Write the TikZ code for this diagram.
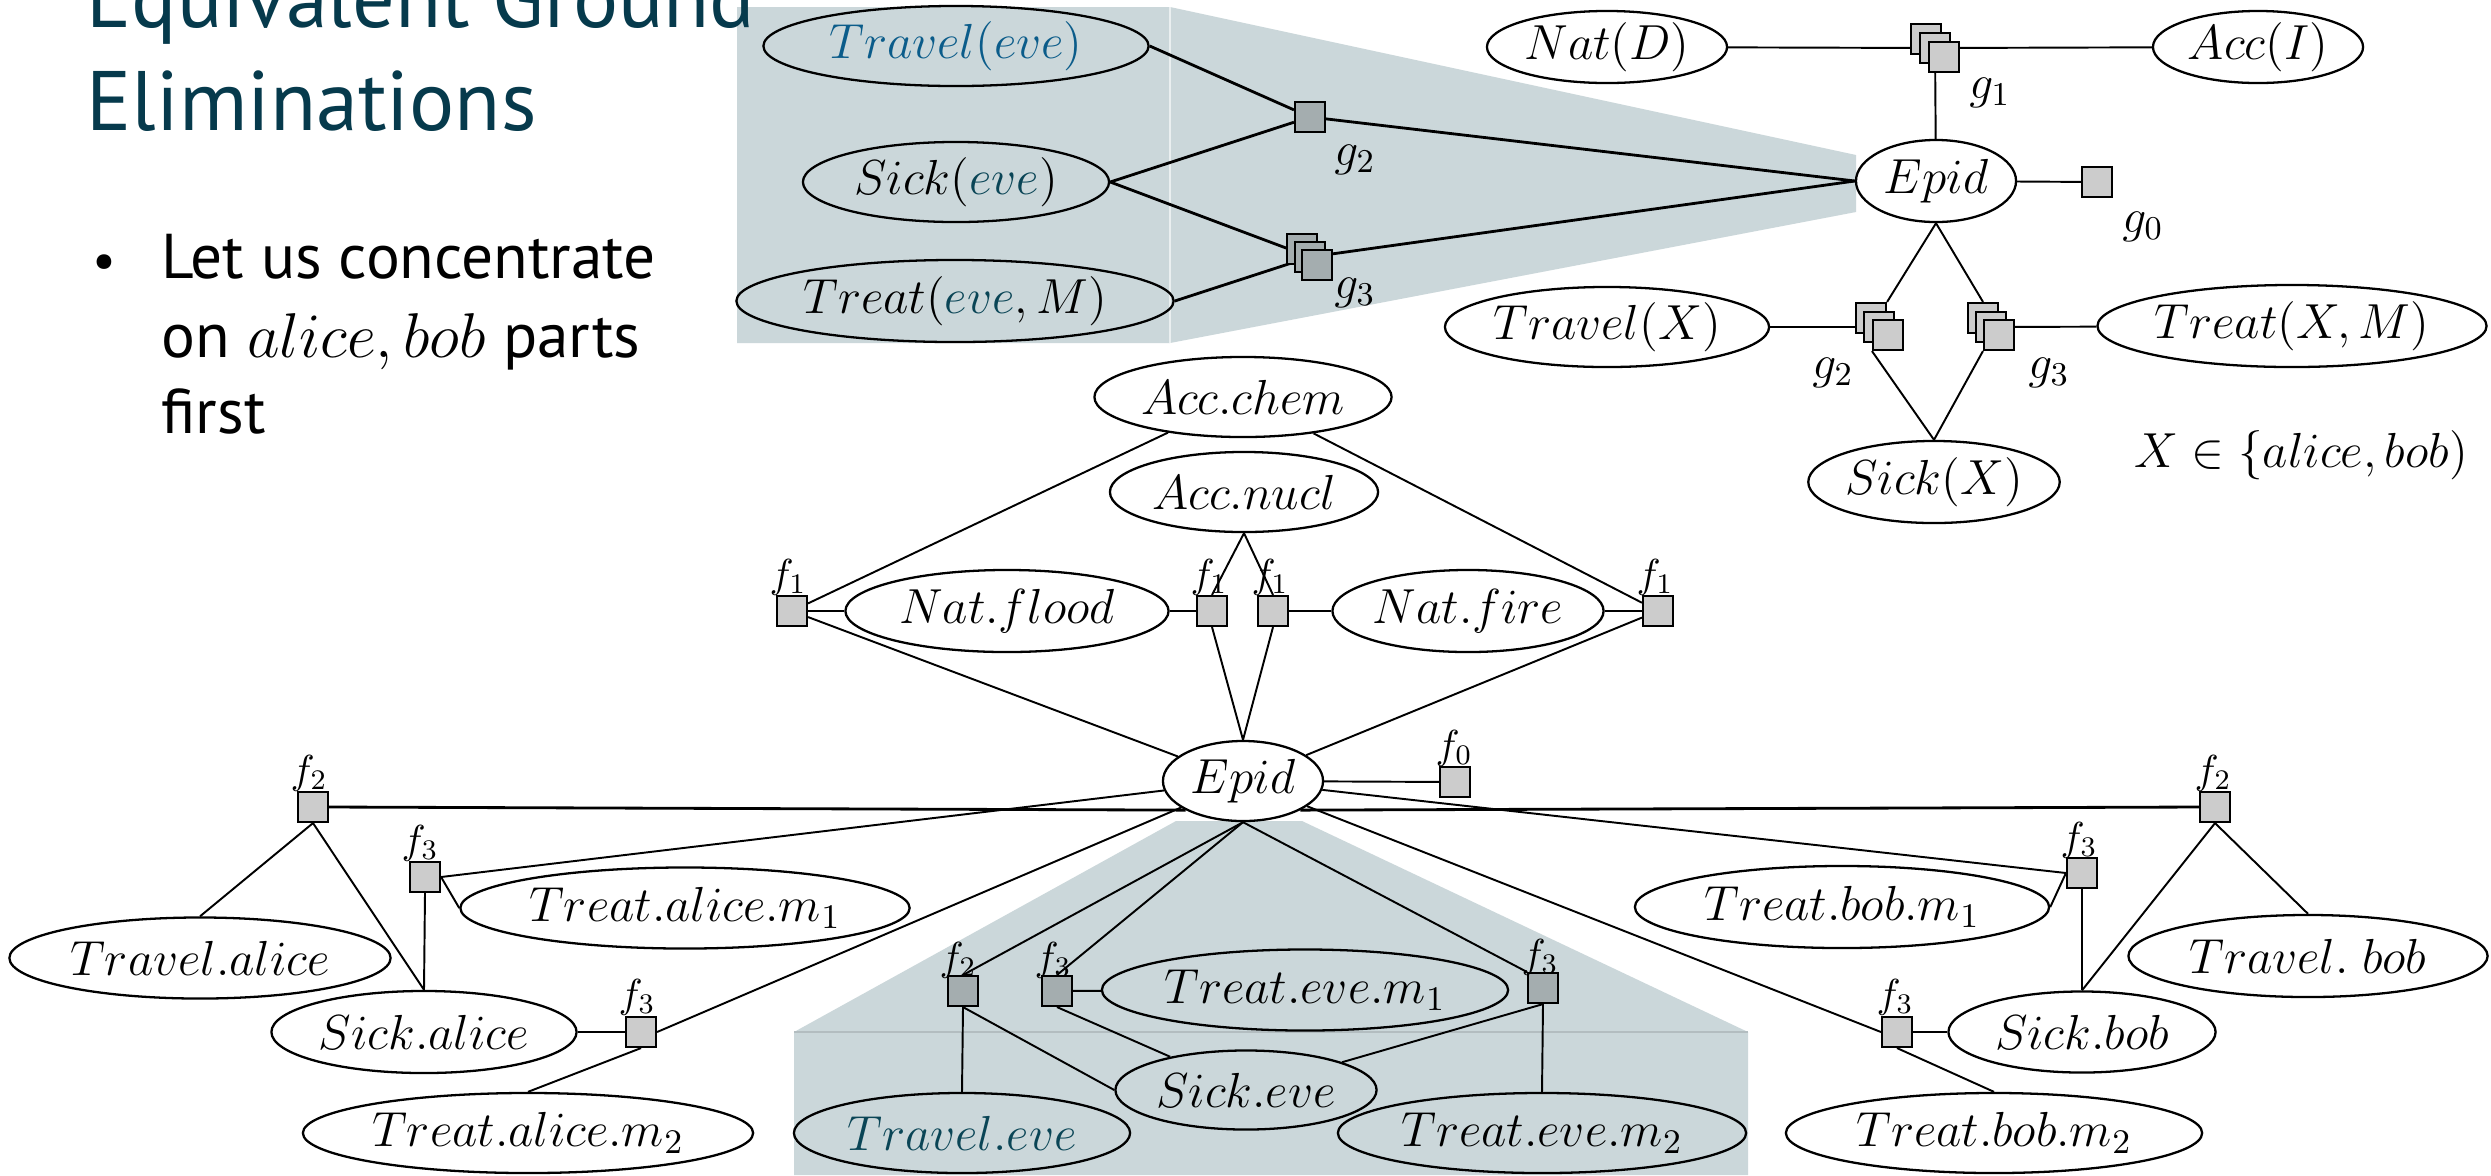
\RequirePackage{fix-cm}
\documentclass[tikz,border=0pt]{standalone}
\usepackage{fontspec}
\newfontfamily\ptsans{PT Sans}
\usetikzlibrary{shapes.geometric}
\definecolor{shadec}{RGB}{203,215,218}
\definecolor{facL}{RGB}{204,204,204}
\definecolor{facD}{RGB}{164,173,175}
\definecolor{titlec}{RGB}{6,58,76}
\definecolor{bluec}{RGB}{11,92,138}
\definecolor{tealc}{RGB}{10,69,86}
\pgfdeclarelayer{bg}\pgfdeclarelayer{edges}\pgfsetlayers{bg,edges,main}
\tikzset{
 var/.style={ellipse,draw,line width=0.65pt,fill=white,inner sep=0pt,font=\fontsize{14}{16}\selectfont},
 varS/.style={var,fill=none},
 fac/.style={rectangle,draw,line width=0.6pt,fill=facL,minimum width=0.3cm,minimum height=0.3cm,inner sep=0pt},
 facS/.style={fac,fill=facD},
 lab/.style={inner sep=0pt,font=\fontsize{11.5}{13}\selectfont},
 labg/.style={inner sep=0pt,font=\fontsize{13.5}{15}\selectfont},
 lnk/.style={line width=0.55pt},
 lnkT/.style={line width=0.8pt},
 ttl/.style={anchor=base west,inner sep=0pt,text=titlec,font=\ptsans\fontsize{24}{28}\selectfont},
 bod/.style={anchor=base west,inner sep=0pt,font=\ptsans\fontsize{18}{21}\selectfont},
}
\begin{document}
\begin{tikzpicture}[x=0.01cm,y=-0.01cm]
\useasboundingbox (0,0) rectangle (2491,1175);
\begin{pgfonlayer}{bg}
\fill[white] (0,0) rectangle (2491,1175);
\fill[shadec] (737,7) -- (1170,7) -- (1856,155) -- (1856,212) -- (1170,343) -- (737,343) -- cycle;
\draw[white!60!shadec, line width=0.6pt] (1170,7) -- (1170,343);
\fill[shadec] (1176,821) -- (1302,821) -- (1748,1032) -- (1748,1175) -- (794,1175) -- (794,1032) -- cycle;
\draw[black!12!shadec, line width=0.6pt] (794,1032) -- (1748,1032);
\end{pgfonlayer}

% title and bullet text
\node[ttl] (title1) at (86,27) {Equivalent Ground};
\node[ttl] (title2) at (86,130) {Eliminations};
\node[bod] (bullet) at (92,278) {\fontsize{15}{18}\selectfont\textbullet};
\node[bod] (line1) at (161,278) {Let us concentrate};
\node[bod] (line2) at (161,357) {on $alice,bob$ parts};
\node[bod] (line3) at (161,433) {first};

% ---------- top-left (shaded) ----------
\node[varS,minimum width=3.85cm,minimum height=0.8cm] (TrE) at (956,46) {\textcolor{bluec}{$Travel(eve)$}};
\node[varS,minimum width=3.06cm,minimum height=0.8cm] (SiE) at (956,182) {$Sick(\textcolor{tealc}{eve})$};
\node[varS,minimum width=4.37cm,minimum height=0.82cm] (TmE) at (955,301) {$Treat(\textcolor{tealc}{eve},M)$};
\node[facS] (g2tl) at (1310,117) {};
\node[facS] (g3tlb) at (1302,249) {};
\node[facS] (g3tlm) at (1310,257) {};
\node[facS] (g3tl) at (1317,265) {};
\node[labg] (lg2tl) at (1355,160) {$g_2$};
\node[labg] (lg3tl) at (1355,293) {$g_3$};

% ---------- top-right ----------
\node[var,minimum width=2.40cm,minimum height=0.72cm] (NatD) at (1607,47) {$Nat(D)$};
\node[var,minimum width=2.10cm,minimum height=0.72cm] (AccI) at (2258,47) {$Acc(I)$};
\node[fac] (g1b) at (1926,39) {};
\node[fac] (g1m) at (1935,48) {};
\node[fac] (g1) at (1944,57) {};
\node[labg] (lg1) at (1990,93) {$g_1$};
\node[var,minimum width=1.60cm,minimum height=0.82cm] (EpidT) at (1936,181) {$Epid$};
\node[fac] (g0) at (2097,182) {};
\node[labg] (lg0) at (2143,227) {$g_0$};
\node[var,minimum width=3.24cm,minimum height=0.8cm] (TravX) at (1607,327) {$Travel(X)$};
\node[fac] (g2rb) at (1871,318) {};
\node[fac] (g2rm) at (1879,327) {};
\node[fac] (g2r) at (1888,335) {};
\node[labg] (lg2r) at (1833,373) {$g_2$};
\node[fac] (g3rb) at (1983,318) {};
\node[fac] (g3rm) at (1991,327) {};
\node[fac] (g3r) at (1999,335) {};
\node[labg] (lg3r) at (2049,373) {$g_3$};
\node[var,minimum width=3.79cm,minimum height=0.82cm] (TreatXM) at (2292,326) {$Treat(X,M)$};
\node[var,minimum width=2.48cm,minimum height=0.82cm] (SickX) at (1934,482) {$Sick(X)$};
\node[inner sep=0pt,font=\fontsize{14}{16}\selectfont] (Xset) at (2301,455) {$X\in\{alice,bob)$};

% ---------- middle ----------
\node[var,minimum width=2.97cm,minimum height=0.8cm] (AccChem) at (1243,397) {$Acc.chem$};
\node[var,minimum width=2.68cm,minimum height=0.8cm] (AccNucl) at (1244,492) {$Acc.nucl$};
\node[fac] (f1a) at (792,611) {};
\node[lab] (lf1a) at (788,577) {$f_1$};
\node[var,minimum width=3.23cm,minimum height=0.82cm] (NatFlood) at (1007,611) {$Nat.flood$};
\node[fac] (f1b) at (1212,611) {};
\node[lab] (lf1b) at (1209,577) {$f_1$};
\node[fac] (f1c) at (1273,611) {};
\node[lab] (lf1c) at (1270,577) {$f_1$};
\node[var,minimum width=2.71cm,minimum height=0.82cm] (NatFire) at (1468,611) {$Nat.fire$};
\node[fac] (f1d) at (1658,611) {};
\node[lab] (lf1d) at (1655,577) {$f_1$};
\node[var,minimum width=1.60cm,minimum height=0.8cm] (EpidM) at (1243,781) {$Epid$};
\node[fac] (f0) at (1455,782) {};
\node[lab] (lf0) at (1454,748) {$f_0$};

% ---------- bottom-left (alice) ----------
\node[fac] (f2a) at (313,807) {};
\node[lab] (lf2a) at (309,773) {$f_2$};
\node[fac] (f3a) at (425,877) {};
\node[lab] (lf3a) at (420,843) {$f_3$};
\node[var,minimum width=4.49cm,minimum height=0.81cm] (TAm1) at (685,908) {$Treat.alice.m_1$};
\node[var,minimum width=3.81cm,minimum height=0.81cm] (TrA) at (200,958) {$Travel.alice$};
\node[var,minimum width=3.05cm,minimum height=0.82cm] (SiA) at (424,1032) {$Sick.alice$};
\node[fac] (f3b) at (641,1032) {};
\node[lab] (lf3b) at (637,997) {$f_3$};
\node[var,minimum width=4.50cm,minimum height=0.8cm] (TAm2) at (528,1133) {$Treat.alice.m_2$};

% ---------- bottom-centre (eve, shaded) ----------
\node[facS] (f2e) at (963,991) {};
\node[lab] (lf2e) at (958,960) {$f_2$};
\node[facS] (f3e) at (1057,991) {};
\node[lab] (lf3e) at (1053,960) {$f_3$};
\node[varS,minimum width=4.06cm,minimum height=0.81cm] (TEm1) at (1305,990) {$Treat.eve.m_1$};
\node[facS] (f3f) at (1543,988) {};
\node[lab] (lf3f) at (1540,957) {$f_3$};
\node[varS,minimum width=2.61cm,minimum height=0.79cm] (SiE2) at (1246,1090) {$Sick.eve$};
\node[varS,minimum width=3.36cm,minimum height=0.8cm] (TrE2) at (962,1133) {\textcolor{tealc}{$Travel.eve$}};
\node[varS,minimum width=4.08cm,minimum height=0.8cm] (TEm2) at (1542,1133) {$Treat.eve.m_2$};

% ---------- bottom-right (bob) ----------
\node[fac] (f2b) at (2215,807) {};
\node[lab] (lf2b) at (2213,773) {$f_2$};
\node[fac] (f3c) at (2082,873) {};
\node[lab] (lf3c) at (2079,840) {$f_3$};
\node[var,minimum width=4.14cm,minimum height=0.82cm] (TBm1) at (1842,907) {$Treat.bob.m_1$};
\node[var,minimum width=3.59cm,minimum height=0.82cm] (TrB) at (2308,956) {$Travel.\;bob$};
\node[var,minimum width=2.67cm,minimum height=0.81cm] (SiB) at (2082,1032) {$Sick.bob$};
\node[fac] (f3d) at (1897,1032) {};
\node[lab] (lf3d) at (1895,997) {$f_3$};
\node[var,minimum width=4.16cm,minimum height=0.8cm] (TBm2) at (1994,1133) {$Treat.bob.m_2$};

% ---------- connectors ----------
\begin{pgfonlayer}{edges}
% top-left
\draw[lnkT] (TrE.east) -- (g2tl);
\draw[lnkT] (SiE.east) -- (g2tl);
\draw[lnkT] (SiE.east) -- (g3tlm);
\draw[lnkT] (TmE.east) -- (g3tlm);
\draw[lnkT] (g2tl) -- (EpidT.west);
\draw[lnkT] (g3tlm) -- (EpidT.west);
% top-right
\draw[lnk] (NatD) -- (g1m);
\draw[lnk] (g1m) -- (AccI);
\draw[lnk] (g1m) -- (EpidT);
\draw[lnk] (EpidT) -- (g0);
\draw[lnk] (EpidT.south) -- (g2rb.north east);
\draw[lnk] (EpidT.south) -- (g3rb.north);
\draw[lnk] (g2r.south west) -- (SickX.north);
\draw[lnk] (g3r.south west) -- (SickX.north);
\draw[lnk] (TravX) -- (g2rm);
\draw[lnk] (TreatXM) -- (g3rm);
% middle
\draw[lnk] (AccChem) -- (f1a);
\draw[lnk] (AccChem) -- (f1d);
\draw[lnk] (AccNucl.south) -- (f1b.north);
\draw[lnk] (AccNucl.south) -- (f1c.north);
\draw[lnk] (NatFlood) -- (f1a);
\draw[lnk] (NatFlood) -- (f1b);
\draw[lnk] (NatFire) -- (f1c);
\draw[lnk] (NatFire) -- (f1d);
\draw[lnk] (f1a) -- (EpidM);
\draw[lnk] (f1b.south) -- (EpidM.north);
\draw[lnk] (f1c.south) -- (EpidM.north);
\draw[lnk] (f1d) -- (EpidM);
\draw[lnk] (EpidM) -- (f0);
% alice
\draw[lnkT] (EpidM.south west) -- (f2a.east);
\draw[lnk] (EpidM) -- (f3a.east);
\draw[lnk] (f3a.east) -- (TAm1.west);
\draw[lnk] (f3a.south) -- (SiA.north);
\draw[lnk] (f2a.south) -- (TrA.north);
\draw[lnk] (f2a.south) -- (SiA.north);
\draw[lnk] (SiA) -- (f3b);
\draw[lnk] (EpidM) -- (f3b.east);
\draw[lnk] (f3b.south) -- (TAm2.north);
% eve
\draw[lnk] (EpidM.south) -- (f2e.north);
\draw[lnk] (EpidM.south) -- (f3e.north);
\draw[lnk] (EpidM.south) -- (f3f.north west);
\draw[lnk] (f2e.south) -- (TrE2.north);
\draw[lnk] (f2e.south) -- (SiE2.west);
\draw[lnk] (f3e) -- (TEm1);
\draw[lnk] (f3e.south) -- (SiE2);
\draw[lnk] (f3f.south) -- (SiE2);
\draw[lnk] (f3f.south) -- (TEm2.north);
% bob
\draw[lnkT] (EpidM.south east) -- (f2b.west);
\draw[lnk] (EpidM) -- (f3c.west);
\draw[lnk] (EpidM) -- (f3d.west);
\draw[lnk] (f3d) -- (SiB);
\draw[lnk] (f3d.south) -- (TBm2.north);
\draw[lnk] (f3c.west) -- (TBm1.east);
\draw[lnk] (f3c.south) -- (SiB.north);
\draw[lnk] (f2b.south) -- (SiB.north);
\draw[lnk] (f2b.south) -- (TrB.north);
\end{pgfonlayer}
\end{tikzpicture}
\end{document}
